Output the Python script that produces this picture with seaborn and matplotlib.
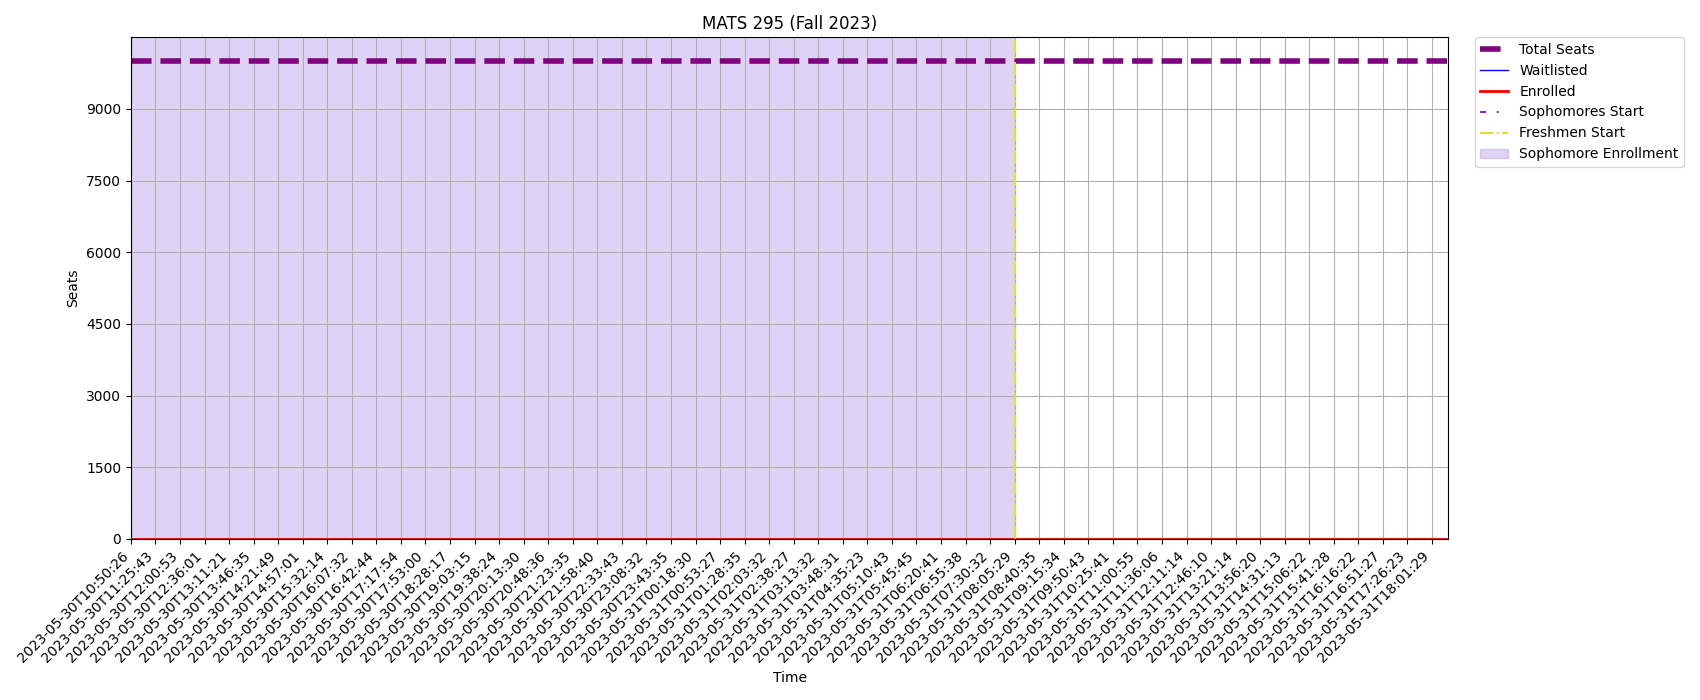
import matplotlib
matplotlib.use("Agg")
import matplotlib.pyplot as plt
import seaborn as sns
import pandas as pd

# ── data ────────────────────────────────────────────────────
# tick labels: one every 3rd sample of the snapshot series
tick_times = [
    "2023-05-30T10:50:26", "2023-05-30T11:25:43", "2023-05-30T12:00:53", "2023-05-30T12:36:01",
    "2023-05-30T13:11:21", "2023-05-30T13:46:35", "2023-05-30T14:21:49", "2023-05-30T14:57:01",
    "2023-05-30T15:32:14", "2023-05-30T16:07:32", "2023-05-30T16:42:44", "2023-05-30T17:17:54",
    "2023-05-30T17:53:00", "2023-05-30T18:28:17", "2023-05-30T19:03:15", "2023-05-30T19:38:24",
    "2023-05-30T20:13:30", "2023-05-30T20:48:36", "2023-05-30T21:23:35", "2023-05-30T21:58:40",
    "2023-05-30T22:33:43", "2023-05-30T23:08:32", "2023-05-30T23:43:35", "2023-05-31T00:18:30",
    "2023-05-31T00:53:27", "2023-05-31T01:28:35", "2023-05-31T02:03:32", "2023-05-31T02:38:27",
    "2023-05-31T03:13:32", "2023-05-31T03:48:31", "2023-05-31T04:35:23", "2023-05-31T05:10:43",
    "2023-05-31T05:45:45", "2023-05-31T06:20:41", "2023-05-31T06:55:38", "2023-05-31T07:30:32",
    "2023-05-31T08:05:29", "2023-05-31T08:40:35", "2023-05-31T09:15:34", "2023-05-31T09:50:43",
    "2023-05-31T10:25:41", "2023-05-31T11:00:55", "2023-05-31T11:36:06", "2023-05-31T12:11:14",
    "2023-05-31T12:46:10", "2023-05-31T13:21:14", "2023-05-31T13:56:20", "2023-05-31T14:31:13",
    "2023-05-31T15:06:22", "2023-05-31T15:41:28", "2023-05-31T16:16:22", "2023-05-31T16:51:27",
    "2023-05-31T17:26:23", "2023-05-31T18:01:29",
]
n_samples = 162
tick_step = 3
total_seats = [10000] * n_samples
waitlisted = [0] * n_samples
enrolled = [0] * n_samples

sophomore_start = "2023-05-30T10:50:26"
freshmen_start = "2023-05-31T08:05:29"
y_ticks = [0, 1500, 3000, 4500, 6000, 7500, 9000]

df = pd.DataFrame({
    "sample": range(n_samples),
    "total": total_seats,
    "waitlisted": waitlisted,
    "enrolled": enrolled,
})
tick_pos = [i * tick_step for i in range(len(tick_times))]
soph_x = tick_pos[tick_times.index(sophomore_start)]
fresh_x = tick_pos[tick_times.index(freshmen_start)]

# ── plot ────────────────────────────────────────────────────
fig, ax = plt.subplots(figsize=(17, 7), dpi=100)
fig.subplots_adjust(left=0.077, right=0.852, top=0.947, bottom=0.23)

sns.lineplot(data=df, x="sample", y="total", ax=ax, color="purple",
             linestyle="--", linewidth=4, label="Total Seats")
sns.lineplot(data=df, x="sample", y="waitlisted", ax=ax, color="blue",
             linewidth=1, label="Waitlisted")
sns.lineplot(data=df, x="sample", y="enrolled", ax=ax, color="red",
             linewidth=2, label="Enrolled")

ax.axvline(soph_x, color="blueviolet", linestyle=(0, (3, 5, 1, 5)),
           linewidth=1.5, label="Sophomores Start")
ax.axvline(fresh_x, color="#e0e030", linestyle="-.",
           linewidth=1.5, label="Freshmen Start")
ax.axvspan(soph_x, fresh_x, color="mediumpurple", alpha=0.3,
           label="Sophomore Enrollment")

ax.set_xticks(tick_pos)
ax.set_xticklabels(tick_times, rotation=45, ha="right")
ax.set_yticks(y_ticks)
ax.set_xlim(0, n_samples - 1)
ax.set_ylim(0, 10500)
ax.grid(True)

ax.set_title("MATS 295 (Fall 2023)")
ax.set_xlabel("Time")
ax.set_ylabel("Seats")
ax.legend(bbox_to_anchor=(1.02, 1), loc="upper left", borderaxespad=0)

plt.savefig("out.png", dpi=100)
plt.close()
